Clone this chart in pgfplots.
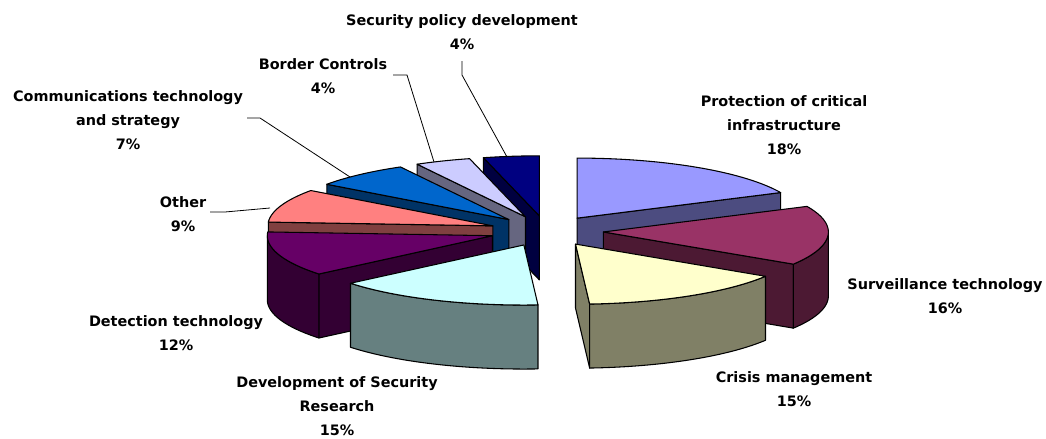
\documentclass[border=0pt]{standalone}
\usepackage{pgfplots}
\pgfplotsset{compat=1.18}
\usepackage{pgfplotstable}
\usepackage{fontspec}
\setmainfont{DejaVu Sans}

\definecolor{c0}{HTML}{9999FF}
\definecolor{c1}{HTML}{993366}
\definecolor{c2}{HTML}{FFFFCC}
\definecolor{c3}{HTML}{CCFFFF}
\definecolor{c4}{HTML}{660066}
\definecolor{c5}{HTML}{FF8080}
\definecolor{c6}{HTML}{0066CC}
\definecolor{c7}{HTML}{CCCCFF}
\definecolor{c8}{HTML}{000080}
\colorlet{s0}{c0!50!black}
\colorlet{s1}{c1!50!black}
\colorlet{s2}{c2!50!black}
\colorlet{s3}{c3!50!black}
\colorlet{s4}{c4!50!black}
\colorlet{s5}{c5!50!black}
\colorlet{s6}{c6!50!black}
\colorlet{s7}{c7!50!black}
\colorlet{s8}{c8!50!black}

% shares in percent, clockwise from 12 o'clock
\pgfplotstableread{
idx value
0 18
1 16
2 15
3 15
4 12
5 9
6 7
7 4
8 4
}\piedata

% geometry in picture pixels (y downwards)
\def\Cx{546.5}\def\Cy{231}\def\Ex{57}\def\Rr{225}\def\Kk{0.267}\def\Dd{64}

\pgfplotsset{facestyle/.style={line width=0.8pt, line join=round, mark=none, forget plot}}

\newcommand\computeslices{%
  \gdef\cumsum{0}%
  \foreach \i in {0,...,8}{%
    \pgfplotstablegetelem{\i}{value}\of{\piedata}%
    \let\val\pgfplotsretval
    \pgfmathsetmacro\angA{\cumsum*3.6}%
    \pgfmathsetmacro\newcum{\cumsum+\val}%
    \pgfmathsetmacro\angB{\newcum*3.6}%
    \xdef\cumsum{\newcum}%
    \expandafter\xdef\csname angA\i\endcsname{\angA}%
    \expandafter\xdef\csname angB\i\endcsname{\angB}%
  }%
}

\newcommand\addarc[3]{%
  \pgfmathtruncatemacro\nseg{max(2,ceil(abs((#2)-(#1))/1.5))}%
  \foreach \j in {0,...,\nseg}{%
    \pgfmathsetmacro\thv{(#1)+((#2)-(#1))*\j/\nseg}%
    \pgfmathsetmacro\px{\tx+\Rr*sin(\thv)}%
    \pgfmathsetmacro\py{\ty-\Rr*\Kk*cos(\thv)+(#3)}%
    \xdef\coords{\coords (\px,\py)}%
  }%
}

\newcommand\drawslice[1]{%
  \edef\aA{\csname angA#1\endcsname}\edef\aB{\csname angB#1\endcsname}%
  \pgfmathsetmacro\midang{(\aA+\aB)/2}%
  \pgfmathsetmacro\tx{\Cx+\Ex*sin(\midang)}%
  \pgfmathsetmacro\ty{\Cy-\Ex*\Kk*cos(\midang)}%
  \pgfmathsetmacro\tyb{\ty+\Dd}%
  % radial face at start angle
  \pgfmathtruncatemacro\vis{sin(\aA)<-0.001 ? 1 : 0}%
  \ifnum\vis=1
    \pgfmathsetmacro\ax{\tx+\Rr*sin(\aA)}\pgfmathsetmacro\ay{\ty-\Rr*\Kk*cos(\aA)}\pgfmathsetmacro\ayb{\ay+\Dd}%
    \edef\cmd{\noexpand\addplot[fill=s#1,draw=black,facestyle] coordinates {(\tx,\ty) (\ax,\ay) (\ax,\ayb) (\tx,\tyb)} -- cycle;}\cmd
  \fi
  % radial face at end angle
  \pgfmathtruncatemacro\vis{sin(\aB)>0.001 ? 1 : 0}%
  \ifnum\vis=1
    \pgfmathsetmacro\ax{\tx+\Rr*sin(\aB)}\pgfmathsetmacro\ay{\ty-\Rr*\Kk*cos(\aB)}\pgfmathsetmacro\ayb{\ay+\Dd}%
    \edef\cmd{\noexpand\addplot[fill=s#1,draw=black,facestyle] coordinates {(\tx,\ty) (\ax,\ay) (\ax,\ayb) (\tx,\tyb)} -- cycle;}\cmd
  \fi
  % outer side
  \pgfmathsetmacro\sa{max(\aA,90)}\pgfmathsetmacro\sb{min(\aB,270)}%
  \pgfmathtruncatemacro\vis{\sa<\sb-0.01 ? 1 : 0}%
  \ifnum\vis=1
    \gdef\coords{}%
    \addarc{\sa}{\sb}{0}\addarc{\sb}{\sa}{\Dd}%
    \edef\cmd{\noexpand\addplot[fill=s#1,draw=black,facestyle] coordinates {\coords} -- cycle;}\cmd
  \fi
  % top face
  \xdef\coords{(\tx,\ty)}%
  \addarc{\aA}{\aB}{0}%
  \edef\cmd{\noexpand\addplot[fill=c#1,draw=black,facestyle] coordinates {\coords} -- cycle;}\cmd
}

\newcommand\labfont{\fontsize{10.8}{18}\selectfont\bfseries}

\begin{document}
\begin{tikzpicture}
\computeslices
\begin{axis}[
  scale only axis, width=784.5pt, height=329.25pt,
  xmin=0, xmax=1046, ymin=0, ymax=439, y dir=reverse,
  hide axis, clip=false]
\coordinate (ll) at (axis cs:0,439);
\coordinate (ur) at (axis cs:1046,0);
% back to front
\drawslice{8}
\drawslice{7}
\drawslice{0}
\drawslice{6}
\drawslice{5}
\drawslice{1}
\drawslice{4}
\drawslice{2}
\drawslice{3}
% leader lines
\addplot[black, line width=0.6pt, mark=none, forget plot] coordinates {(247,118) (260,118) (350,177)};
\addplot[black, line width=0.6pt, mark=none, forget plot] coordinates {(393,75) (407,75) (434,162)};
\addplot[black, line width=0.6pt, mark=none, forget plot] coordinates {(462,61) (462,75) (507,157)};
\addplot[black, line width=0.6pt, mark=none, forget plot] coordinates {(210,212) (225,212) (270,208)};
% labels
\node[font=\labfont, align=center] at (axis cs:462,32) {Security policy development\\4\%};
\node[font=\labfont, align=center] at (axis cs:323,76) {Border Controls\\4\%};
\node[font=\labfont, align=center] at (axis cs:128,120) {Communications technology\\and strategy\\7\%};
\node[font=\labfont, align=center] at (axis cs:784,125) {Protection of critical\\infrastructure\\18\%};
\node[font=\labfont, align=center] at (axis cs:945,296) {Surveillance technology\\16\%};
\node[font=\labfont, align=center] at (axis cs:794,389) {Crisis management\\15\%};
\node[font=\labfont, align=center] at (axis cs:337,406) {Development of Security\\Research\\15\%};
\node[font=\labfont, align=center] at (axis cs:176,333) {Detection technology\\12\%};
\node[font=\labfont, align=center] at (axis cs:183,214) {Other\\9\%};
\end{axis}
\pgfresetboundingbox
\useasboundingbox (ll) rectangle (ur);
\end{tikzpicture}
\end{document}
